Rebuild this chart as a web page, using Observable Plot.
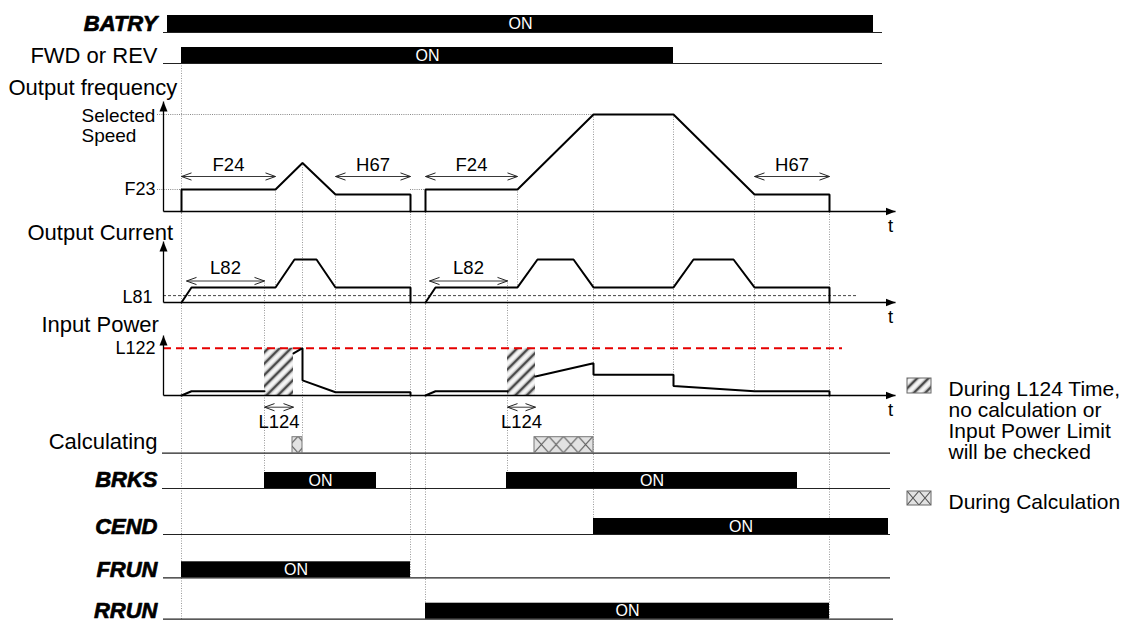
<!DOCTYPE html>
<html>
<head>
<meta charset="utf-8">
<script src="https://cdn.jsdelivr.net/npm/d3@7"></script>
<script src="https://cdn.jsdelivr.net/npm/@observablehq/plot@0.6"></script>
<style>
  html, body { margin: 0; padding: 0; background: #fff; }
  #chart svg { display: block; }
</style>
</head>
<body>
<div id="chart"></div>
<script>
// ======================= DATA =======================
// time in arbitrary units, 0 = origin of the time axes
const batryOn = [[4, 710]];
const fwdOn   = [[18, 510]];
const brksOn  = [[101, 213], [343, 634]];
const cendOn  = [[430, 725]];
const frunOn  = [[18, 247]];
const rrunOn  = [[262, 666]];
const calcOn  = [[129, 139], [371, 430]];
const l124Windows = [[101, 130], [344, 372]];

// Output frequency (Hz)
const selectedSpeed = 60;
const F23 = 13.6;
const freqRun1 = [[18,0],[18,13.6],[112,13.6],[139,30],[172,10.5],[247,10.5],[247,0]];
const freqRun2 = [[262,0],[262,13.6],[354,13.6],[430,60],[510,60],[591,10.5],[666,10.5],[666,0]];

// Output current (%)
const L81 = 16;
const curRun1 = [[18,0],[28,35],[112,35],[131,100],[153,100],[172,35],[247,35],[247,0]];
const curRun2 = [[262,0],[272,35],[354,35],[374,100],[410,100],[430,35],[510,35],[530,100],[570,100],[591,35],[666,35],[666,0]];

// Input power (% of L122)
const L122 = 100;
const powRun1a = [[18,0],[28,9],[101,9]];
const powRun1b = [[130,89],[139,100],[139,32],[172,7],[247,7],[247,0]];
const powRun2a = [[262,0],[272,9],[344,9]];
const powRun2b = [[372,40],[430,68],[430,44],[510,44],[510,20],[591,9],[666,9],[666,0]];

// dimension arrows: [row, label, from, to]
const dimArrows = [
  ["freq","F24",18,112], ["freq","H67",172,247], ["freq","F24",262,354], ["freq","H67",591,666],
  ["cur","L82",23,101], ["cur","L82",266,344],
  ["pow","L124",101,130], ["pow","L124",344,372]
];

const guideTimes = [18, 101, 112, 139, 172, 247, 262, 344, 354, 430, 510, 591, 666];
const signalLabels = ["BATRY", "FWD or REV", "Calculating", "BRKS", "CEND", "FRUN", "RRUN"];
const analogLabels = ["Output frequency", "Output Current", "Input Power"];
const legendTexts = ["During L124 Time,\nno calculation or\nInput Power Limit\nwill be checked", "During Calculation"];

// ======================= LAYOUT =======================
const FONT = "'Liberation Sans', Arial, Helvetica, sans-serif";
const PX0 = 163;                 // pixel of t = 0
const tx = px => px - PX0;       // helper for items placed off the time axis
const T_END = 732;               // arrow tip of the time axes

const digital = {
  "BATRY":       {base: 32,    h: 17, x1: 0,  x2: 719, dy: -9,  strong: true},
  "FWD or REV":  {base: 63,    h: 16, x1: 0,  x2: 719, dy: -7.5,strong: false},
  "Calculating": {base: 452.7, h: 16, x1: -1, x2: 727, dy: -11, strong: false},
  "BRKS":        {base: 488,   h: 16, x1: -1, x2: 727, dy: -9,  strong: true},
  "CEND":        {base: 534,   h: 16, x1: 0,  x2: 727, dy: -7.5,strong: true},
  "FRUN":        {base: 577.3, h: 16, x1: 0,  x2: 727, dy: -8,  strong: true},
  "RRUN":        {base: 618.7, h: 16, x1: 0,  x2: 730, dy: -8,  strong: true}
};
const analog = {
  freq: {base: 211, top: 101, k: 97 / 60, lx: 8,  ly: 87,  dimY: -35, dimL: -46},
  cur:  {base: 302, top: 241, k: 0.43,    lx: 27, ly: 232, dimY: -21.5, dimL: -34},
  pow:  {base: 395, top: 335, k: 0.473,   lx: 41, ly: 324, dimY: 11.7, dimL: 26.7}
};
const analogKey = {"Output frequency": "freq", "Output Current": "cur", "Input Power": "pow"};
const yOf = (row, v) => analog[row].base - v * analog[row].k;

const guideSpans = [[63,619],[280,472],[189,287],[162,437],[194,392],[194,577],[189,619],
                    [280,472],[189,287],[114,518],[114,385],[194,391],[194,619]];
const guides = guideTimes.map((t, i) => ({t, y1: guideSpans[i][0], y2: guideSpans[i][1]}));

const bars = [
  ...batryOn.map(([s, e]) => ({row: "BATRY", s, e})),
  ...fwdOn.map(([s, e]) => ({row: "FWD or REV", s, e})),
  ...brksOn.map(([s, e]) => ({row: "BRKS", s, e})),
  ...cendOn.map(([s, e]) => ({row: "CEND", s, e})),
  ...frunOn.map(([s, e]) => ({row: "FRUN", s, e})),
  ...rrunOn.map(([s, e]) => ({row: "RRUN", s, e}))
];

const axisLinks = [];
for (const k of Object.keys(analog)) {
  axisLinks.push({x1: 0, x2: 0, y1: analog[k].base, y2: analog[k].top});
  axisLinks.push({x1: 0, x2: T_END, y1: analog[k].base, y2: analog[k].base});
}

const trace = (pts, row) => Plot.line(pts, {
  x: d => d[0], y: d => yOf(row, d[1]),
  stroke: "black", strokeWidth: 2, strokeLinejoin: "miter"
});

const legendIcons = [
  {x1: tx(907), x2: tx(931), y1: 378, y2: 393, fill: "url(#hatch)"},
  {x1: tx(907), x2: tx(931), y1: 491, y2: 505, fill: "url(#cross2)"}
];
const legendPos = [{x: tx(948), y: 420}, {x: tx(948), y: 501.5}];

// ======================= CHART =======================
const chart = Plot.plot({
  width: 1137,
  height: 622,
  margin: 0,
  x: {type: "linear", domain: [0, T_END], range: [PX0, PX0 + T_END], axis: null},
  y: {type: "linear", domain: [0, 622], range: [0, 622], axis: null},
  style: {fontFamily: FONT, background: "white", overflow: "visible"},
  marks: [
    // vertical dotted guides
    Plot.ruleX(guides, {x: "t", y1: "y1", y2: "y2", stroke: "#9a9a9a", strokeWidth: 1, strokeDasharray: "1,1.5"}),
    // reference levels
    Plot.ruleY([selectedSpeed], {y: v => yOf("freq", v), x1: tx(157), x2: 430, stroke: "#888", strokeWidth: 1, strokeDasharray: "1,1.2"}),
    Plot.ruleY([[tx(157), 18], [247, 262]], {y: () => yOf("freq", F23), x1: d => d[0], x2: d => d[1], stroke: "#888", strokeWidth: 1, strokeDasharray: "1,1.2"}),
    Plot.ruleY([L81], {y: v => yOf("cur", v), x1: 0, x2: 694, stroke: "#444", strokeWidth: 1, strokeDasharray: "3,2"}),
    // L124 hatched windows
    Plot.rect(l124Windows, {x1: d => d[0], x2: d => d[1], y1: yOf("pow", L122), y2: yOf("pow", 0), fill: "url(#hatch)"}),
    // L122 limit
    Plot.ruleY([L122], {y: v => yOf("pow", v), x1: 0, x2: 679, stroke: "#e60000", strokeWidth: 2, strokeDasharray: "8,5"}),
    // digital baselines
    Plot.ruleY(signalLabels, {y: d => digital[d].base, x1: d => digital[d].x1, x2: d => digital[d].x2, stroke: "#222", strokeWidth: 1.2}),
    // calculating boxes
    Plot.rect(calcOn, {x1: d => d[0], x2: d => d[1], y1: digital["Calculating"].base - digital["Calculating"].h, y2: digital["Calculating"].base, fill: "url(#cross)", stroke: "#777", strokeWidth: 1}),
    // ON bars
    Plot.rect(bars, {x1: "s", x2: "e", y1: d => digital[d.row].base - digital[d.row].h, y2: d => digital[d.row].base, fill: "black"}),
    Plot.text(bars, {x: d => (d.s + d.e) / 2, y: d => digital[d.row].base - digital[d.row].h / 2, text: () => "ON", fill: "white", fontSize: 16, fontFamily: FONT}),
    // axes with arrows
    Plot.link(axisLinks, {x1: "x1", x2: "x2", y1: "y1", y2: "y2", stroke: "black", strokeWidth: 1.3, ariaDescription: "axis-arrow"}),
    // waveforms
    trace(freqRun1, "freq"), trace(freqRun2, "freq"),
    trace(curRun1, "cur"), trace(curRun2, "cur"),
    trace(powRun1a, "pow"), trace(powRun1b, "pow"), trace(powRun2a, "pow"), trace(powRun2b, "pow"),
    // dimension arrows
    Plot.link(dimArrows, {x1: d => d[2], x2: d => d[3], y1: d => analog[d[0]].base + analog[d[0]].dimY, y2: d => analog[d[0]].base + analog[d[0]].dimY, stroke: "#222", strokeWidth: 0.9, ariaDescription: "dim"}),
    Plot.text(dimArrows, {x: d => (d[2] + d[3]) / 2, y: d => analog[d[0]].base + analog[d[0]].dimL, text: d => d[1], fontSize: 18.5, fill: "black", fontFamily: FONT}),
    // "t" labels
    Plot.text(Object.keys(analog), {x: 727, y: k => analog[k].base + 15, text: () => "t", fontSize: 18.5, fill: "black", fontFamily: FONT}),
    // level labels
    Plot.text(["Selected\nSpeed"], {x: tx(81), y: 125, text: d => d, textAnchor: "start", lineHeight: 1.05, fontSize: 19, fontFamily: FONT}),
    Plot.text([["F23", "freq", F23], ["L81", "cur", L81], ["L122", "pow", L122]], {x: d => tx(d[0] === "L81" ? 152 : 155), y: d => yOf(d[1], d[2]) + (d[0] === "L81" ? 1.5 : 0), text: d => d[0], textAnchor: "end", fontSize: 18, fontFamily: FONT}),
    // analog row labels
    Plot.text(analogLabels, {x: d => tx(analog[analogKey[d]].lx), y: d => analog[analogKey[d]].ly, text: d => d, textAnchor: "start", fontSize: 22, fontFamily: FONT}),
    // digital row labels
    Plot.text(signalLabels.filter(d => !digital[d].strong), {x: tx(157), y: d => digital[d].base + digital[d].dy, text: d => d, textAnchor: "end", fontSize: 22, fontFamily: FONT}),
    Plot.text(signalLabels.filter(d => digital[d].strong), {x: tx(157), y: d => digital[d].base + digital[d].dy, text: d => d, textAnchor: "end", fontSize: 22, fontWeight: "bold", fontStyle: "italic", stroke: "black", strokeWidth: 0.7, fill: "black", fontFamily: FONT}),
    // legend
    Plot.rect(legendIcons, {x1: "x1", x2: "x2", y1: "y1", y2: "y2", fill: d => d.fill, stroke: "#666", strokeWidth: 1}),
    Plot.text(legendTexts, {x: (d, i) => legendPos[i].x, y: (d, i) => legendPos[i].y, text: d => d, textAnchor: "start", lineHeight: 1.0, fontSize: 21, fontFamily: FONT})
  ]
});

// ---- patterns & markers (styling only) ----
const svg = d3.select(chart);
const defs = svg.insert("defs", ":first-child");

const hatch = defs.append("pattern").attr("id", "hatch").attr("patternUnits", "userSpaceOnUse")
  .attr("width", 8).attr("height", 8).attr("patternTransform", "rotate(45)");
hatch.append("rect").attr("width", 8).attr("height", 8).attr("fill", "#f6f6f6");
hatch.append("line").attr("x1", 4).attr("y1", -1).attr("x2", 4).attr("y2", 9).attr("stroke", "#c8c8c8").attr("stroke-width", 4.6);
hatch.append("line").attr("x1", 4).attr("y1", -1).attr("x2", 4).attr("y2", 9).attr("stroke", "#4a4a4a").attr("stroke-width", 2.2);

function crossPattern(id, w, h, x, y) {
  const p = defs.append("pattern").attr("id", id).attr("patternUnits", "userSpaceOnUse")
    .attr("width", w).attr("height", h).attr("x", x).attr("y", y);
  p.append("rect").attr("width", w).attr("height", h).attr("fill", "#e2e2e2");
  p.append("path").attr("d", `M0,0L${w},${h}M${w},0L0,${h}`).attr("stroke", "#555").attr("stroke-width", 1.1).attr("fill", "none");
}
crossPattern("cross", 14.75, 16.3, 534, 436.4);
crossPattern("cross2", 12, 14, 907, 491);

const tri = defs.append("marker").attr("id", "tri").attr("viewBox", "0 -5 10 10")
  .attr("refX", 10).attr("refY", 0).attr("markerWidth", 10).attr("markerHeight", 10)
  .attr("markerUnits", "userSpaceOnUse").attr("orient", "auto");
tri.append("path").attr("d", "M0,-4L10,0L0,4Z").attr("fill", "black");

const chev = defs.append("marker").attr("id", "chev").attr("viewBox", "-1 -5 12 10")
  .attr("refX", 10).attr("refY", 0).attr("markerWidth", 12).attr("markerHeight", 10)
  .attr("markerUnits", "userSpaceOnUse").attr("orient", "auto-start-reverse");
chev.append("path").attr("d", "M0,-3.6L10,0L0,3.6").attr("fill", "none").attr("stroke", "#222").attr("stroke-width", 1);

svg.selectAll('g[aria-description="axis-arrow"] path').attr("marker-end", "url(#tri)");
svg.selectAll('g[aria-description="dim"] path').attr("marker-start", "url(#chev)").attr("marker-end", "url(#chev)");

document.getElementById("chart").append(chart);
</script>
</body>
</html>
